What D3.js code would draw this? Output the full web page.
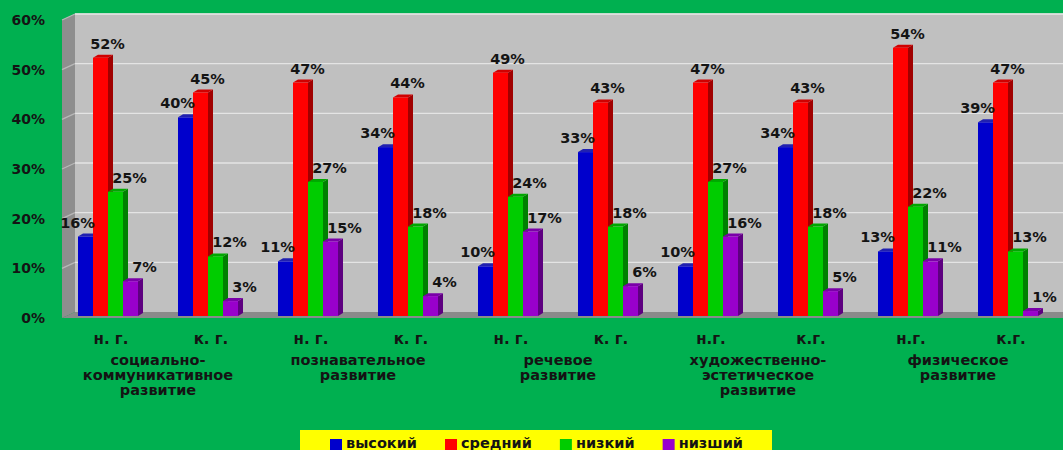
<!DOCTYPE html>
<html>
<head>
<meta charset="utf-8">
<script src="https://cdn.jsdelivr.net/npm/d3@7"></script>
<style>
  body { margin: 0; background: #00B050; }
  text { font-family: "DejaVu Sans", Verdana, sans-serif; font-weight: bold; fill: #141414; }
</style>
</head>
<body>
<div id="chart"></div>
<script>
// categories (two per area)
const categories = ["н. г.", "к. г.", "н. г.", "к. г.", "н. г.", "к. г.", "н.г.", "к.г.", "н.г.", "к.г."];
const groupLabels = [
  ["социально-", "коммуникативное", "развитие"],
  ["познавательное", "развитие"],
  ["речевое", "развитие"],
  ["художественно-", "эстетическое", "развитие"],
  ["физическое", "развитие"]
];
const seriesNames = ["высокий", "средний", "низкий", "низший"];
const vysokiy = [16, 40, 11, 34, 10, 33, 10, 34, 13, 39];
const sredniy = [52, 45, 47, 44, 49, 43, 47, 43, 54, 47];
const nizkiy  = [25, 12, 27, 18, 24, 18, 27, 18, 22, 13];
const nizshiy = [7, 3, 15, 4, 17, 6, 16, 5, 11, 1];
const yTicks = [0, 10, 20, 30, 40, 50, 60];

const seriesValues = [vysokiy, sredniy, nizkiy, nizshiy];
const colors = {
  front: ["#0000CC", "#FF0000", "#00CC00", "#9900CC"],
  side:  ["#000080", "#A00000", "#008000", "#5E0080"],
  top:   ["#2020B0", "#D00000", "#00A800", "#7A00A8"]
};

const width = 1063, height = 450;
const svg = d3.select("#chart").append("svg")
  .attr("width", width).attr("height", height);

// scales
const y = d3.scaleLinear().domain([0, 60]).range([316, 18]);
const x = d3.scaleBand().domain(d3.range(categories.length))
  .range([58, 1058]).paddingInner(0.4).paddingOuter(0.2);
const xs = d3.scaleBand().domain(d3.range(seriesNames.length)).range([0, x.bandwidth()]);

// walls (3D look)
const wallL = 62, wallD = 13;
svg.append("polygon")
  .attr("points", [[wallL, y(60) + 2], [wallL + wallD, y(60) - 4], [wallL + wallD, y(0) - 4], [wallL, y(0) + 2]].join(" "))
  .attr("fill", "#8E8E8E");
svg.append("rect")
  .attr("x", wallL + wallD).attr("y", y(60) - 4)
  .attr("width", width - wallL - wallD + 10).attr("height", y(0) - y(60))
  .attr("fill", "#C0C0C0");
svg.append("line")
  .attr("x1", wallL + wallD).attr("x2", width).attr("y1", y(60) - 4).attr("y2", y(60) - 4)
  .attr("stroke", "#D8D8D8").attr("stroke-width", 1);
svg.append("polygon")
  .attr("points", [[wallL, y(0) + 2], [wallL + wallD, y(0) - 4], [width + 5, y(0) - 4], [width + 5, y(0) + 2]].join(" "))
  .attr("fill", "#8A8A8A");

// gridlines
const grid = svg.append("g");
yTicks.filter(t => t > 0).forEach(t => {
  grid.append("line")
    .attr("x1", wallL + wallD).attr("x2", width).attr("y1", y(t) - 4).attr("y2", y(t) - 4)
    .attr("stroke", "#E4E4E4").attr("stroke-width", 1.3);
  grid.append("line")
    .attr("x1", wallL).attr("x2", wallL + wallD).attr("y1", y(t) + 2).attr("y2", y(t) - 4)
    .attr("stroke", "#B8B8B8").attr("stroke-width", 1.3);
});

// y tick labels
svg.append("g").selectAll("text")
  .data(yTicks).join("text")
  .attr("x", 45).attr("y", d => y(d) + 3)
  .attr("text-anchor", "end").attr("dominant-baseline", "middle")
  .attr("font-size", 14)
  .text(d => d + "%");

// bars
const dx = 5, dy = 3;
const base = y(0);
const bars = svg.append("g");
categories.forEach((c, i) => {
  seriesValues.forEach((vals, s) => {
    const v = vals[i];
    const bx = x(i) + xs(s), bw = xs.bandwidth(), by = y(v);
    const g = bars.append("g");
    g.append("polygon")
      .attr("points", [[bx + bw, by], [bx + bw + dx, by - dy], [bx + bw + dx, base - dy], [bx + bw, base]].join(" "))
      .attr("fill", colors.side[s]);
    g.append("polygon")
      .attr("points", [[bx, by], [bx + dx, by - dy], [bx + bw + dx, by - dy], [bx + bw, by]].join(" "))
      .attr("fill", colors.top[s]);
    g.append("rect")
      .attr("x", bx).attr("y", by).attr("width", bw).attr("height", base - by)
      .attr("fill", colors.front[s]);
  });
});

// data labels
const labelDx = [-8, 7, 14, 14];
const labels = svg.append("g");
categories.forEach((c, i) => {
  seriesValues.forEach((vals, s) => {
    const v = vals[i];
    labels.append("text")
      .attr("x", x(i) + xs(s) + xs.bandwidth() / 2 + labelDx[s])
      .attr("y", y(v) - 9)
      .attr("text-anchor", "middle")
      .attr("font-size", 14.5)
      .text(v + "%");
  });
});

// category labels
svg.append("g").selectAll("text")
  .data(categories).join("text")
  .attr("x", (d, i) => x(i) + x.bandwidth() / 2 + 3)
  .attr("y", 344)
  .attr("text-anchor", "middle")
  .attr("font-size", 15)
  .text(d => d);

// area labels
const areas = svg.append("g");
groupLabels.forEach((lines, gi) => {
  const cx = (x(gi * 2) + x(gi * 2 + 1) + x.bandwidth()) / 2;
  lines.forEach((ln, li) => {
    areas.append("text")
      .attr("x", cx).attr("y", 365 + li * 15)
      .attr("text-anchor", "middle")
      .attr("font-size", 14.5)
      .text(ln);
  });
});

// legend
const legend = svg.append("g");
legend.append("rect")
  .attr("x", 300).attr("y", 430).attr("width", 472).attr("height", 30)
  .attr("fill", "#FFFF00");
let lx = 330;
seriesNames.forEach((name, s) => {
  legend.append("rect")
    .attr("x", lx).attr("y", 439).attr("width", 12).attr("height", 11)
    .attr("fill", colors.front[s]);
  const t = legend.append("text")
    .attr("x", lx + 16).attr("y", 448)
    .attr("font-size", 14.5)
    .text(name);
  lx += 16 + t.node().getComputedTextLength() + 28;
});
</script>
</body>
</html>
